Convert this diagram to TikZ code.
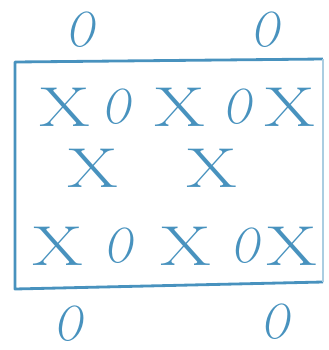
\documentclass[tikz,border=0pt]{standalone}
\usepackage{tikz}
\usetikzlibrary{positioning}
\definecolor{inkblue}{RGB}{72,146,190}
\definecolor{faintblue}{RGB}{170,205,225}

\begin{document}
\begin{tikzpicture}[x=0.03cm, y=-0.03cm,
    xmark/.style={inner sep=0pt, text=inkblue, font=\fontsize{48}{48}\selectfont, xscale=1.3, transform shape},
    omark/.style={inner sep=0pt, text=inkblue, font=\fontsize{42}{42}\selectfont\itshape, xscale=0.8, transform shape}]
    \useasboundingbox (0,0) rectangle (329,350);
    % outside
    \node[omark] (t1) at (80,30) {O};
    \node[omark] (t2) at (265,30) {O};
    \node[omark] (b1) at (68,324) {O};
    \node[omark] (b2) at (275,322) {O};
    % box
    \draw[inkblue, line width=2.4pt, line join=round] (323,59) -- (15,62) -- (15,289) -- (323,282);
    \draw[faintblue, line width=1pt] (323,59) -- (323,282);
    % first row
    \foreach \i/\x in {1/65,2/180,3/290} {
        \node[xmark] (ax\i) at (\x,107) {X};
    }
    \foreach \i/\x in {1/116,2/237} {
        \node[omark] (ao\i) at (\x,107) {O};
    }
    % second row
    \foreach \i/\x in {1/93,2/212} {
        \node[xmark] (bx\i) at (\x,168) {X};
    }
    % third row
    \foreach \i/\x in {1/58,2/186,3/292} {
        \node[xmark] (cx\i) at (\x,246) {X};
    }
    \foreach \i/\x in {1/118,2/245} {
        \node[omark] (co\i) at (\x,246) {O};
    }
\end{tikzpicture}
\end{document}
